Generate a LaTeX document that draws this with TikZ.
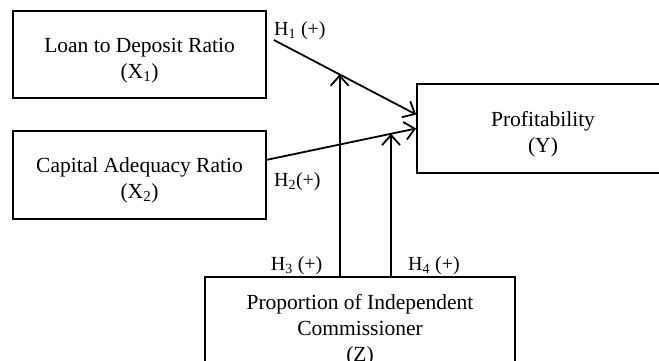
\documentclass[tikz,border=0pt]{standalone}
\usepackage{fontspec}
\setmainfont{Liberation Serif}
\usetikzlibrary{arrows.meta,positioning,calc}
\tikzset{
    %Define standard arrow tip
    >={Straight Barb[length=10pt,width=18pt]},
    %Define style for boxes
    varnode/.style={
             rectangle,
             draw=black, line width=1.8pt,
             align=center,
             font=\fontsize{21.5}{26}\selectfont},
    % Define arrow style
    hyparrow/.style={
            ->,
            line width=1.8pt},
    % Define style for hypothesis labels
    hyplabel/.style={
            inner sep=0pt,
            font=\fontsize{20}{22}\selectfont}
}
% lower the text a little inside the boxes
\newcommand{\boxtop}{\rule{0pt}{26pt}}
\begin{document}
\begin{tikzpicture}[x=1pt, y=1pt]
    \useasboundingbox (0,0) rectangle (659,360);
    \node[varnode, minimum width=253pt, minimum height=87pt] (ldr) at (139.5,305.5) {\boxtop Loan to Deposit Ratio\\(X\textsubscript{1})};
    \node[varnode, minimum width=253pt, minimum height=88pt, below=31pt of ldr] (car) {\boxtop Capital Adequacy Ratio\\(X\textsubscript{2})};
    \node[varnode, minimum width=252pt, minimum height=89pt] (profit) at (543,231.5) {\boxtop Profitability\\(Y)};
    \node[varnode, minimum width=310pt, minimum height=96pt] (pic) at (360,35) {\boxtop Proportion of Independent\\Commissioner\\(Z)};
    \coordinate (ldrstart) at ($(ldr.east)+(7,14.5)$);
    \coordinate (ldrend) at ($(profit.west)+(0,14)$);
    \coordinate (carstart) at ($(car.east)+(0,15)$);
    \coordinate (mod1) at ($(ldrstart)!0.462!(ldrend)$);
    \coordinate (mod2) at ($(carstart)!0.832!(profit.west)$);
    \path (ldrstart) edge[hyparrow] (ldrend)
    (carstart) edge[hyparrow] (profit.west)
    (mod1 |- pic.north) edge[hyparrow] (mod1)
    (mod2 |- pic.north) edge[hyparrow] (mod2);
    \node[hyplabel, anchor=south west] (h1) at (ldrstart) {H\textsubscript{1} (+)};
    \node[hyplabel, anchor=west] (h2) at ($(car.east)+(7,-7)$) {H\textsubscript{2}(+)};
    \node[hyplabel, anchor=south east] (h3) at ($(mod1 |- pic.north)+(-17,1)$) {H\textsubscript{3} (+)};
    \node[hyplabel, anchor=south west] (h4) at ($(mod2 |- pic.north)+(17,1)$) {H\textsubscript{4} (+)};
\end{tikzpicture}
\end{document}
